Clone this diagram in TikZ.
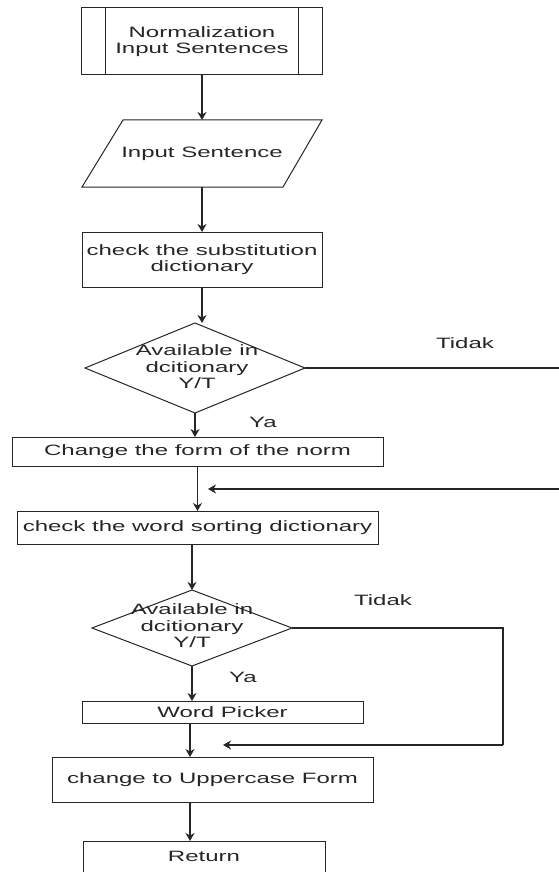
\documentclass[tikz,border=0pt]{standalone}
\usepackage{fontspec}
\setmainfont[FakeStretch=1.6]{Liberation Sans}
\usetikzlibrary{arrows.meta}
\begin{document}
\begin{tikzpicture}[x=1pt,y=-1pt,
  every node/.style={font=\fontsize{15}{16.5}\selectfont, inner sep=0pt, outer sep=0pt, text=black!85},
  box/.style={draw=black!85, line width=1pt, rectangle, align=center},
  ghost/.style={rectangle, align=center},
  conn/.style={draw=black!85, line width=1.1pt},
  arr/.style={conn, -{Stealth[length=8pt,width=9pt,inset=2.5pt]}},
  lbl/.style={}
]
\useasboundingbox (0,0) rectangle (559,872);
\begin{scope}
\clip (0,0) rectangle (559,872);
% nodes
\node[box, minimum width=241pt, minimum height=67pt] (n1) at (202,41.5) {Normalization\\Input Sentences};
\draw[line width=1pt, black!85] ([xshift=24pt]n1.north west) -- ([xshift=24pt]n1.south west);
\draw[line width=1pt, black!85] ([xshift=-24pt]n1.north east) -- ([xshift=-24pt]n1.south east);

\node[ghost, minimum width=240pt, minimum height=67pt] (n2) at (202,153.5) {Input Sentence};
\draw[line width=1pt, black!85] ([xshift=41pt]n2.north west) -- (n2.north east) -- ([xshift=-39pt]n2.south east) -- (n2.south west) -- cycle;

\node[box, minimum width=240pt, minimum height=55pt] (n3) at (202,259.5) {check the substitution\\dictionary};

\node[ghost, minimum width=220pt, minimum height=90pt] (d1) at (195,368) {};
\draw[line width=1pt, black!85] (d1.north) -- (d1.east) -- (d1.south) -- (d1.west) -- cycle;
\node[ghost] (d1t) at (197,367) {Available in\\dcitionary\\Y/T};

\node[lbl] (t1) at (465,343) {Tidak};
\node[lbl] (y1) at (263,422) {Ya};

\node[box, minimum width=371pt, minimum height=29pt] (n4) at (197.5,451.5) {Change the form of the norm};

\node[box, minimum width=361pt, minimum height=33pt] (n5) at (197.5,527.5) {check the word sorting dictionary};

\node[ghost, minimum width=200pt, minimum height=76pt] (d2) at (192,628) {};
\draw[line width=1pt, black!85] (d2.north) -- (d2.east) -- (d2.south) -- (d2.west) -- cycle;
\node[ghost] (d2t) at (192,626) {Available in\\dcitionary\\Y/T};

\node[lbl] (t2) at (383,600) {Tidak};
\node[lbl] (y2) at (243,677) {Ya};

\node[box, minimum width=281pt, minimum height=22pt] (n6) at (222.5,712) {Word Picker};

\node[box, minimum width=321pt, minimum height=45pt] (n7) at (212.5,779.5) {change to Uppercase Form};

\node[box, minimum width=242pt, minimum height=40pt] (n8) at (204,861) {};
\node[ghost] (n8t) at (204,856) {Return};

% helper coordinates
\coordinate (c1) at (565,368);
\coordinate (c2) at (565,489);
\coordinate (c3) at (208,489);
\coordinate (c4) at (503,628);
\coordinate (c5) at (503,745);
\coordinate (c6) at (223,745);

% connectors
\draw[arr] (n1.south) -- (n2.north);
\draw[arr] (n2.south) -- (n3.north);
\draw[arr] (n3.south) -- (n3.south |- d1.north);
\draw[arr] (d1.south) -- (d1.south |- n4.north);
\draw[conn] (d1.east) -- (c1);
\draw[arr] (c2) -- (c3);
\draw[arr] (n4.south -| n5.north) -- (n5.north);
\draw[arr] (n5.south -| d2.north) -- (d2.north);
\draw[conn] (d2.east) -- (c4) -- (c5);
\draw[arr] (c5) -- (c6);
\draw[arr] (d2.south) -- (d2.south |- n6.north);
\draw[arr] ([xshift=-32.5pt]n6.south) -- ([xshift=-32.5pt]n6.south |- n7.north);
\draw[arr] ([xshift=-22.5pt]n7.south) -- ([xshift=-22.5pt]n7.south |- n8.north);
\end{scope}
\end{tikzpicture}
\end{document}
